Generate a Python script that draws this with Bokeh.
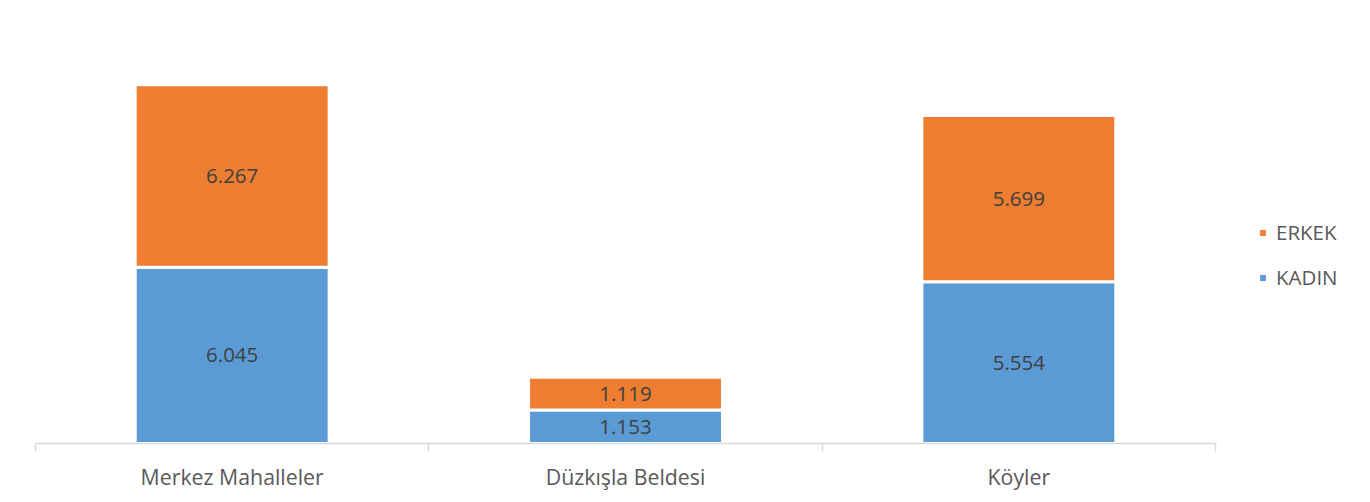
from bokeh.plotting import figure
from bokeh.models import FixedTicker, Legend, LegendItem, ColumnDataSource, Range1d
from bokeh.core.properties import value
from bokeh.embed import file_html
from bokeh.resources import INLINE

categories = ["Merkez Mahalleler", "Düzkışla Beldesi", "Köyler"]
kadin = [6045, 1153, 5554]
erkek = [6267, 1119, 5699]
series_names = ["ERKEK", "KADIN"]

ORANGE = "#ED7D31"
BLUE = "#5B9BD5"
FONT = "Open Sans"

n = len(categories)
xs = [i + 0.5 for i in range(n)]
erkek_bottom = list(kadin)
erkek_top = [k + e for k, e in zip(kadin, erkek)]

def fmt(v):
    return f"{v:,}".replace(",", ".")

# frame: 35..1344 px wide (1309 px); categories occupy 1180 px
x_end = n * 1309 / 1180

p = figure(width=1354, height=493, output_backend="svg", toolbar_location=None,
           x_range=Range1d(0, x_end), y_range=Range1d(0, 14000),
           min_border_left=35, min_border_right=10, min_border_top=35, min_border_bottom=50)
p.outline_line_color = None
p.background_fill_color = "white"
p.border_fill_color = "white"
p.xgrid.visible = False
p.ygrid.visible = False
p.yaxis.visible = False

src = ColumnDataSource(dict(x=xs, kb=[0] * n, kt=list(kadin), eb=erkek_bottom, et=erkek_top,
                            kl=[fmt(v) for v in kadin], el=[fmt(v) for v in erkek],
                            ky=[v / 2 for v in kadin],
                            ey=[b + v / 2 for b, v in zip(kadin, erkek)]))

bw = 0.493
rk = p.vbar(x="x", bottom="kb", top="kt", width=bw, source=src, fill_color=BLUE,
            line_color="white", line_width=3)
re = p.vbar(x="x", bottom="eb", top="et", width=bw, source=src, fill_color=ORANGE,
            line_color="white", line_width=3)

p.text(x="x", y="ky", text="kl", source=src, text_align="center", text_baseline="middle",
       text_font=value(FONT), text_font_size="20.5px", text_color="#404040")
p.text(x="x", y="ey", text="el", source=src, text_align="center", text_baseline="middle",
       text_font=value(FONT), text_font_size="20.5px", text_color="#404040")

ax = p.xaxis[0]
ax.bounds = (0, n)
ax.ticker = FixedTicker(ticks=xs, minor_ticks=list(range(n + 1)))
ax.major_label_overrides = {x: c for x, c in zip(xs, categories)}
ax.major_tick_line_color = None
ax.major_tick_out = 0
ax.major_tick_in = 0
ax.minor_tick_out = 8
ax.minor_tick_in = 0
ax.minor_tick_line_color = "#d9d9d9"
ax.minor_tick_line_width = 1.5
ax.axis_line_color = "#d9d9d9"
ax.axis_line_width = 1.5
ax.major_label_standoff = 10
ax.major_label_text_font = FONT
ax.major_label_text_font_size = "21.3px"
ax.major_label_text_color = "#595959"

legend = Legend(items=[LegendItem(label=series_names[0], renderers=[re]),
                       LegendItem(label=series_names[1], renderers=[rk])],
                location=(1222, 152))
legend.border_line_color = None
legend.background_fill_alpha = 0
legend.padding = 0
legend.margin = 0
legend.glyph_width = 11
legend.glyph_height = 11
legend.label_standoff = 8
legend.label_height = 24
legend.spacing = 17
legend.label_text_font = FONT
legend.label_text_font_size = "20.5px"
legend.label_text_color = "#595959"
p.add_layout(legend, "center")

open("out.html", "w").write(file_html(p, INLINE))
